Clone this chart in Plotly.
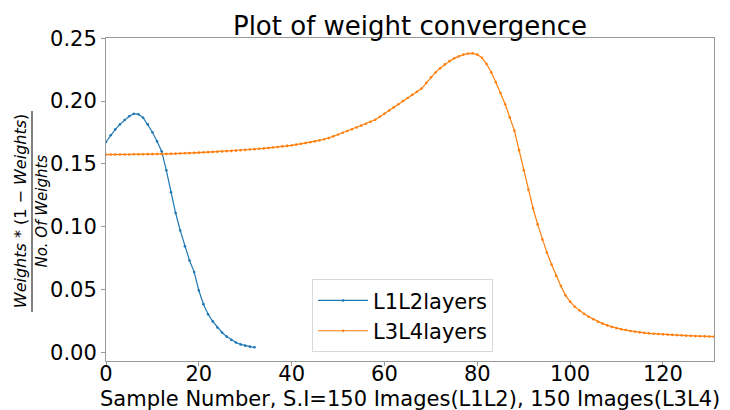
import plotly.graph_objects as go

# Weight-convergence metric per sample
l1l2_values = [
    0.1675, 0.1728, 0.1775, 0.1815, 0.1850, 0.1880, 0.1900, 0.1895, 0.1868, 0.1815,
    0.1752, 0.1680, 0.1600, 0.1450, 0.1275, 0.1110, 0.0970, 0.0845, 0.0732, 0.0640,
    0.0494, 0.0385, 0.0305, 0.0248, 0.0200, 0.0160, 0.0127, 0.0101, 0.0080, 0.0065,
    0.0055, 0.0047, 0.0042,
]

l3l4_values = [
    0.1575, 0.1575, 0.1575, 0.1576, 0.1576, 0.1576, 0.1577, 0.1577, 0.1577, 0.1578,
    0.1578, 0.1579, 0.1579, 0.1580, 0.1581, 0.1582, 0.1583, 0.1585, 0.1586, 0.1588,
    0.1590, 0.1592, 0.1594, 0.1596, 0.1598, 0.1600, 0.1602, 0.1604, 0.1606, 0.1609,
    0.1612, 0.1615, 0.1618, 0.1621, 0.1624, 0.1627, 0.1631, 0.1635, 0.1640, 0.1644,
    0.1648, 0.1654, 0.1660, 0.1666, 0.1673, 0.1680, 0.1688, 0.1697, 0.1706, 0.1720,
    0.1734, 0.1748, 0.1762, 0.1776, 0.1790, 0.1805, 0.1820, 0.1836, 0.1852, 0.1876,
    0.1900, 0.1925, 0.1950, 0.1975, 0.2000, 0.2025, 0.2050, 0.2075, 0.2100, 0.2145,
    0.2190, 0.2228, 0.2262, 0.2292, 0.2318, 0.2340, 0.2357, 0.2370, 0.2378, 0.2380,
    0.2370, 0.2345, 0.2295, 0.2230, 0.2150, 0.2065, 0.1975, 0.1870, 0.1765, 0.1610,
    0.1450, 0.1295, 0.1150, 0.1020, 0.0900, 0.0795, 0.0700, 0.0610, 0.0530, 0.0455,
    0.0405, 0.0365, 0.0335, 0.0308, 0.0285, 0.0265, 0.0245, 0.0230, 0.0216, 0.0204,
    0.0194, 0.0186, 0.0179, 0.0172, 0.0166, 0.0161, 0.0157, 0.0153, 0.0150, 0.0148,
    0.0145, 0.0143, 0.0141, 0.0139, 0.0137, 0.0135, 0.0133, 0.0131, 0.0130, 0.0129,
    0.0128, 0.0127,
]

series_names = ["L1L2layers", "L3L4layers"]
series_colors = ["#1f77b4", "#ff7f0e"]
x_ticks = [0, 20, 40, 60, 80, 100, 120]
y_ticks = [0.00, 0.05, 0.10, 0.15, 0.20, 0.25]

FONT = "DejaVu Sans"
AXIS_GRAY = "#9a9a9a"

fig = go.Figure()
for name, vals, color in zip(series_names, [l1l2_values, l3l4_values], series_colors):
    fig.add_trace(go.Scatter(
        x=list(range(len(vals))), y=vals, name=name,
        mode="lines+markers",
        line=dict(color=color, width=1.2),
        marker=dict(color=color, size=2.6),
    ))

fig.update_layout(
    width=730, height=410,
    margin=dict(l=106, r=16, t=38, b=49),
    paper_bgcolor="white", plot_bgcolor="white",
    font=dict(family=FONT, color="black", size=21),
    title=dict(
        text="Plot of weight convergence",
        x=0.5, xref="paper", xanchor="center",
        y=1, yref="paper", yanchor="bottom",
        pad=dict(b=3),
        font=dict(family=FONT, size=26, color="black"),
    ),
    legend=dict(
        x=0.339, y=0.253, xanchor="left", yanchor="top",
        bgcolor="white", bordercolor="#d8d8d8", borderwidth=1,
        font=dict(family=FONT, size=21, color="black"),
        itemwidth=50, tracegroupgap=0,
    ),
    showlegend=True,
)

fig.update_xaxes(
    range=[0, 131], tickvals=x_ticks, ticktext=[str(v) for v in x_ticks],
    showgrid=False, zeroline=False,
    showline=True, linecolor=AXIS_GRAY, linewidth=1, mirror=True,
    ticks="outside", ticklen=4, tickcolor=AXIS_GRAY,
    ticklabelstandoff=-10,
    tickfont=dict(family=FONT, size=21, color="black"),
    automargin=False,
)
fig.update_yaxes(
    range=[-0.0067, 0.2502], tickvals=y_ticks, ticktext=[f"{v:.2f}" for v in y_ticks],
    showgrid=False, zeroline=False,
    showline=True, linecolor=AXIS_GRAY, linewidth=1, mirror=True,
    ticks="outside", ticklen=4, tickcolor=AXIS_GRAY,
    tickfont=dict(family=FONT, size=21, color="black"),
    automargin=False,
)

# X-axis title placed just under the tick labels
fig.add_annotation(
    text="Sample Number, S.I=150 Images(L1L2), 150 Images(L3L4)",
    xref="paper", yref="paper", x=0.5, y=-0.118,
    xanchor="center", yanchor="middle", showarrow=False,
    font=dict(family=FONT, size=21, color="black"),
)

# Y-axis label drawn as a stacked fraction
fig.add_annotation(
    text="<i>Weights</i> * (1 − <i>Weights</i>)",
    xref="paper", yref="paper", x=-0.1414, y=0.464,
    xanchor="center", yanchor="middle", textangle=-90, showarrow=False,
    font=dict(family=FONT, size=16, color="black"),
)
fig.add_annotation(
    text="<i>No. Of Weights</i>",
    xref="paper", yref="paper", x=-0.1045, y=0.464,
    xanchor="center", yanchor="middle", textangle=-90, showarrow=False,
    font=dict(family=FONT, size=15, color="black"),
)
fig.add_shape(
    type="line", xref="paper", yref="paper",
    x0=-0.1217, x1=-0.1217, y0=0.152, y1=0.774,
    line=dict(color="black", width=1),
)

fig.write_html("out.html")
